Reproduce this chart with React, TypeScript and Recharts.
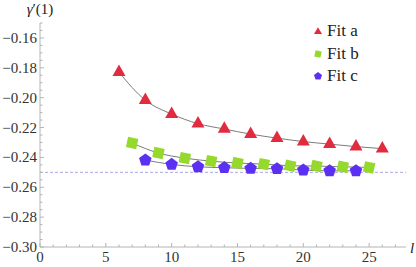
import React from 'react';
import { ComposedChart, XAxis, YAxis, Scatter, Line, ReferenceLine, Legend } from 'recharts';

// ---- data ----
const fitAX = [6, 8, 10, 12, 14, 16, 18, 20, 22, 24, 26];
const fitAY = [-0.183, -0.2017, -0.211, -0.2174, -0.221, -0.2244, -0.2271, -0.2294, -0.2311, -0.2328, -0.2341];
const fitBX = [7, 9, 11, 13, 15, 17, 19, 21, 23, 25];
const fitBY = [-0.2304, -0.2371, -0.2405, -0.2425, -0.2438, -0.2445, -0.2456, -0.2458, -0.2463, -0.2467];
const fitCX = [8, 10, 12, 14, 16, 18, 20, 22, 24];
const fitCY = [-0.2418, -0.2447, -0.2463, -0.2469, -0.2474, -0.2476, -0.2485, -0.249, -0.249];
const limitValue = -0.25;

const seriesNames = ['Fit a', 'Fit b', 'Fit c'];

const xTicks = [0, 1, 2, 3, 4, 5, 6, 7, 8, 9, 10, 11, 12, 13, 14, 15, 16, 17, 18, 19, 20, 21, 22, 23, 24, 25, 26, 27];
const xLabeledTicks = [0, 5, 10, 15, 20, 25];
const yTicks = [
  -0.3, -0.295, -0.29, -0.285, -0.28, -0.275, -0.27, -0.265, -0.26, -0.255, -0.25, -0.245, -0.24, -0.235,
  -0.23, -0.225, -0.22, -0.215, -0.21, -0.205, -0.2, -0.195, -0.19, -0.185, -0.18, -0.175, -0.17, -0.165,
  -0.16, -0.155, -0.15,
];
const yLabeledTicks = [-0.3, -0.28, -0.26, -0.24, -0.22, -0.2, -0.18, -0.16];

// ---- styles ----
const RED = '#e12c40';
const GREEN = '#94d92c';
const BLUE = '#5b30f2';
const AXIS = '#b4b4b4';
const FIT = '#7c7c7c';
const FONT = "'Liberation Serif', Tinos, 'Noto Serif', 'DejaVu Serif', 'Nimbus Roman', FreeSerif, Times, serif";

const toPoints = (xs: number[], ys: number[]) => xs.map((x, i) => ({ x, y: ys[i] }));
const dataA = toPoints(fitAX, fitAY);
const dataB = toPoints(fitBX, fitBY);
const dataC = toPoints(fitCX, fitCY);

const triPoints = (cx: number, cy: number, w: number, h: number) =>
  `${cx},${cy - (2 * h) / 3} ${cx + w / 2},${cy + h / 3} ${cx - w / 2},${cy + h / 3}`;

const sqPoints = (cx: number, cy: number, s: number, rotDeg: number) => {
  const r = s / Math.SQRT2;
  const pts: string[] = [];
  for (let k = 0; k < 4; k++) {
    const a = ((45 + rotDeg + 90 * k) * Math.PI) / 180;
    pts.push(`${cx + r * Math.cos(a)},${cy + r * Math.sin(a)}`);
  }
  return pts.join(' ');
};

const pentPoints = (cx: number, cy: number, r: number) => {
  const pts: string[] = [];
  for (let k = 0; k < 5; k++) {
    const a = ((-90 + 72 * k) * Math.PI) / 180;
    pts.push(`${cx + r * Math.cos(a)},${cy + r * Math.sin(a)}`);
  }
  return pts.join(' ');
};

const TriShape = (p: any) => <polygon points={triPoints(p.cx, p.cy, 13, 11.5)} fill={RED} />;
const SqShape = (p: any) => <polygon points={sqPoints(p.cx, p.cy, 10.5, 12)} fill={GREEN} />;
const PentShape = (p: any) => <polygon points={pentPoints(p.cx, p.cy, 6.6)} fill={BLUE} />;

const isIn = (arr: number[], v: number) => arr.some((a) => Math.abs(a - v) < 1e-9);

const textStyle: React.CSSProperties = { fontFamily: FONT };

const XTick = (props: any) => {
  const { x, y, payload } = props;
  const v = payload.value;
  const major = isIn(xLabeledTicks, v);
  return (
    <g>
      <line x1={x} x2={x} y1={y} y2={y - (major ? 4 : 2.5)} stroke={AXIS} strokeWidth={1} />
      {major && (
        <text x={x} y={y + 15} textAnchor="middle" style={textStyle} fontSize={15} fill="#333">
          {v}
        </text>
      )}
    </g>
  );
};

const YTick = (props: any) => {
  const { x, y, payload } = props;
  const v = payload.value;
  const major = isIn(yLabeledTicks, v);
  return (
    <g>
      <line x1={x} x2={x + (major ? 4 : 2.5)} y1={y} y2={y} stroke={AXIS} strokeWidth={1} />
      {major && (
        <text x={x - 3} y={y + 5} textAnchor="end" style={textStyle} fontSize={15} fill="#333">
          {'\u2212' + Math.abs(v).toFixed(2)}
        </text>
      )}
    </g>
  );
};

const YLabel = (props: any) => {
  const vb = props.viewBox || { x: 0, y: 23, width: 40 };
  return (
    <text x={vb.x + vb.width} y={vb.y - 9} textAnchor="middle" style={textStyle} fontSize={15} fill="#222">
      <tspan fontStyle="italic">γ</tspan>
      <tspan>′(1)</tspan>
    </text>
  );
};

const XLabel = (props: any) => {
  const vb = props.viewBox || { x: 40, y: 247, width: 366 };
  return (
    <text x={vb.x + vb.width + 6} y={vb.y + 6} textAnchor="middle" style={textStyle} fontSize={15} fontStyle="italic" fill="#222">
      l
    </text>
  );
};

const legendMarkers = [
  <polygon key="a" points={triPoints(6, 6.8, 8, 6.8)} fill={RED} />,
  <polygon key="b" points={sqPoints(6, 6, 6.2, 12)} fill={GREEN} />,
  <polygon key="c" points={pentPoints(6, 6.2, 4.2)} fill={BLUE} />,
];

const LegendContent = () => (
  <div style={{ fontFamily: FONT, fontSize: 17, lineHeight: '22.5px', color: '#222' }}>
    {seriesNames.map((name, i) => (
      <div key={name} style={{ display: 'flex', alignItems: 'center', height: 22.5 }}>
        <svg width={12} height={12} style={{ marginRight: 3 }}>
          {legendMarkers[i]}
        </svg>
        <span>{name}</span>
      </div>
    ))}
  </div>
);

export default function App() {
  return (
    <div style={{ position: 'absolute', left: 0, top: 0, width: 416, height: 267, background: '#fff', fontFamily: FONT }}>
      <ComposedChart width={416} height={267} margin={{ top: 23, right: 10, bottom: 0, left: 0 }} style={{ fontFamily: FONT }}>
        <XAxis
          type="number"
          dataKey="x"
          domain={[0, 27.8]}
          ticks={xTicks}
          interval={0}
          allowDataOverflow
          height={20}
          tickLine={false}
          tickSize={0}
          tickMargin={0}
          axisLine={{ stroke: AXIS }}
          tick={<XTick />}
          label={{ content: <XLabel /> } as any}
        />
        <YAxis
          type="number"
          dataKey="y"
          domain={[-0.3, -0.15]}
          ticks={yTicks}
          interval={0}
          allowDataOverflow
          width={40}
          tickLine={false}
          tickSize={0}
          tickMargin={0}
          axisLine={{ stroke: AXIS }}
          tick={<YTick />}
          label={{ content: <YLabel /> } as any}
        />
        <ReferenceLine y={limitValue} stroke="#a9a6e6" strokeDasharray="3 2" strokeWidth={1} />
        <Line data={dataA} dataKey="y" type="monotone" stroke={FIT} strokeWidth={1} dot={false} isAnimationActive={false} legendType="none" />
        <Line data={dataB} dataKey="y" type="monotone" stroke={FIT} strokeWidth={1} dot={false} isAnimationActive={false} legendType="none" />
        <Line data={dataC} dataKey="y" type="monotone" stroke={FIT} strokeWidth={1} dot={false} isAnimationActive={false} legendType="none" />
        <Scatter name={seriesNames[0]} data={dataA} dataKey="y" shape={<TriShape />} isAnimationActive={false} />
        <Scatter name={seriesNames[1]} data={dataB} dataKey="y" shape={<SqShape />} isAnimationActive={false} />
        <Scatter name={seriesNames[2]} data={dataC} dataKey="y" shape={<PentShape />} isAnimationActive={false} />
        <Legend
          layout="vertical"
          align="center"
          verticalAlign="middle"
          content={<LegendContent />}
          wrapperStyle={{ position: 'absolute', left: 312, top: 20, width: 90, height: 70 }}
        />
      </ComposedChart>
    </div>
  );
}
